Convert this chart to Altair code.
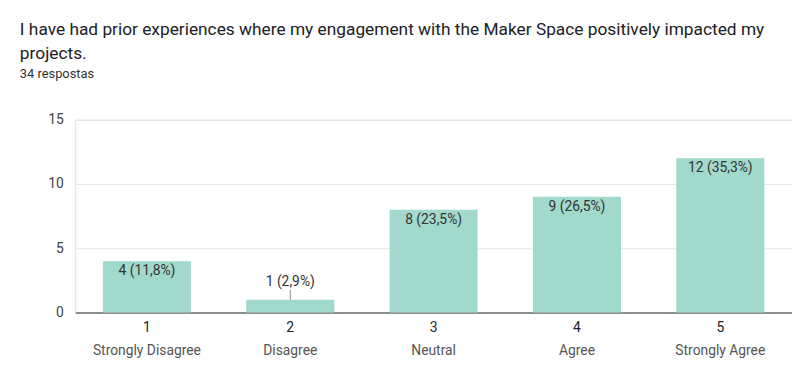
import altair as alt
import pandas as pd

codes = ["1", "2", "3", "4", "5"]
names = ["Strongly Disagree", "Disagree", "Neutral", "Agree", "Strongly Agree"]
counts = [4, 1, 8, 9, 12]
labels = ["4 (11,8%)", "1 (2,9%)", "8 (23,5%)", "9 (26,5%)", "12 (35,3%)"]

df = pd.DataFrame({"code": codes, "name": names, "count": counts, "label": labels})

FONT = "Roboto"

x = alt.X("code:N", sort=codes,
          scale=alt.Scale(paddingInner=0.386, paddingOuter=0.193),
          axis=alt.Axis(title=None, labelAngle=0, ticks=False, domainColor="#333333",
                        domainWidth=1.2, labelPadding=8, labelFontSize=14,
                        labelColor="#222222", labelFont=FONT, grid=False))
y = alt.Y("count:Q",
          scale=alt.Scale(domain=[0, 15], nice=False),
          axis=alt.Axis(title=None, values=[0, 2.5, 5, 7.5, 10, 12.5, 15],
                        labelExpr="datum.value % 5 === 0 ? datum.label : ''",
                        ticks=False, domain=False, labelPadding=12, labelFontSize=14,
                        labelColor="#444444", labelFont=FONT,
                        gridColor={"condition": {"test": "datum.value % 5 === 0", "value": "#e6e6e6"},
                                   "value": "#f3f3f3"}))

base = alt.Chart(df)

bars = base.mark_bar(color="#a1d9cd").encode(x=x, y=y)

inside = base.transform_filter("datum.count >= 2").mark_text(
    baseline="top", dy=3, fontSize=14, font=FONT, color="#333333"
).encode(x=alt.X("code:N", sort=codes), y="count:Q", text="label:N")

outside = base.transform_filter("datum.count < 2").mark_text(
    baseline="bottom", dy=-11, fontSize=14, font=FONT, color="#333333"
).encode(x=alt.X("code:N", sort=codes), y="count:Q", text="label:N")

leader = base.transform_filter("datum.count < 2").mark_rule(
    color="#888888", strokeWidth=1, y2Offset=-10
).encode(x=alt.X("code:N", sort=codes), y="count:Q", y2="count:Q")

cats = base.mark_text(baseline="middle", fontSize=14, font=FONT, color="#555555").encode(
    x=alt.X("code:N", sort=codes), y=alt.value(234), text="name:N")

chart = alt.layer(bars, inside, outside, leader, cats).properties(
    width=725, height=195,
    autosize=alt.AutoSizeParams(type="none"),
    padding={"left": 68, "top": 111, "right": 0, "bottom": 48},
    title=alt.TitleParams(
        text=["I have had prior experiences where my engagement with the Maker Space positively impacted my",
              "projects."],
        subtitle="34 respostas",
        anchor="start", frame="group", dx=-56, offset=32,
        font=FONT, fontSize=17.5, fontWeight="normal", color="#202124", lineHeight=24,
        subtitleFont=FONT, subtitleFontSize=13, subtitleColor="#333333", subtitlePadding=6,
    ),
).configure_view(stroke="#e6e6e6").configure(background="white")

chart.save("out.html", embed_options={"renderer": "svg", "actions": False})
